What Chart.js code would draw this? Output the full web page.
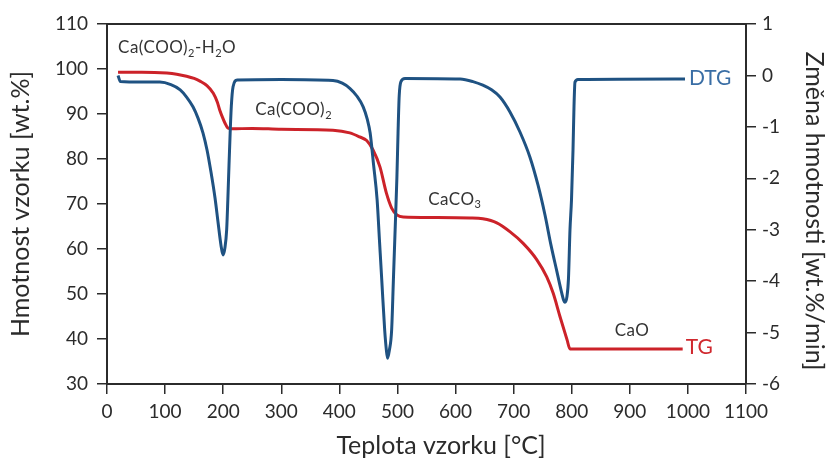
<!DOCTYPE html>
<html>
<head>
<meta charset="utf-8">
<script src="https://cdn.jsdelivr.net/npm/chart.js@4"></script>
<style>
  html, body { margin: 0; background: #fff; }
  #wrap { width: 830px; height: 464px; }
</style>
</head>
<body>
<div id="wrap"><canvas id="c" width="830" height="464"></canvas></div>
<script>
// TG curve: sample temperature [°C] and remaining mass [wt.%]
const tgTemp = [19, 60, 103, 120, 137, 150, 160, 172, 183, 190, 194, 199, 203, 208, 215, 250, 300, 389, 418, 435, 447, 458, 470, 481, 490, 499, 510, 560, 625, 647, 671, 694, 716, 740, 757, 768, 780, 792, 797, 991];
const tgMass = [99.3, 99.3, 99.1, 98.85, 98.4, 97.9, 97.3, 96.3, 94.6, 92.6, 90.9, 89.2, 88.0, 86.9, 86.7, 86.8, 86.6, 86.4, 85.8, 84.9, 84.1, 82.0, 78.2, 72.4, 69.1, 67.6, 67.1, 67.0, 66.9, 66.7, 65.8, 63.8, 61.3, 57.6, 53.8, 50.2, 44.9, 39.8, 37.8, 37.8];

// DTG curve: temperature [°C] and rate of mass change [wt.%/min]
const dtgTemp = [19, 23, 60, 91, 110, 126, 137, 148, 156.7, 165.3, 172.2, 179, 185.9, 191.1, 196.2, 199.7, 203, 206, 208, 210, 212, 214, 217, 224, 300, 389, 405, 418, 430, 441, 448, 453, 459, 465, 469, 473, 478, 481, 483, 486, 490, 493, 496, 499, 501, 503, 506, 513, 608, 630, 647, 662, 676.5, 693.7, 710.9, 728.1, 741.9, 753.9, 764.3, 774.6, 781.5, 785.8, 788.4, 791.8, 794.4, 797, 799.6, 802.2, 803.9, 805.6, 810.8, 995];
const dtgRate = [0.0, -0.12, -0.13, -0.13, -0.18, -0.28, -0.42, -0.61, -0.83, -1.12, -1.45, -1.88, -2.38, -2.85, -3.3, -3.49, -3.35, -3.0, -2.42, -1.75, -1.12, -0.6, -0.22, -0.09, -0.08, -0.1, -0.15, -0.25, -0.4, -0.61, -0.85, -1.12, -1.75, -2.42, -3.2, -3.98, -4.95, -5.35, -5.5, -5.35, -4.95, -3.98, -3.0, -2.0, -1.12, -0.4, -0.12, -0.06, -0.07, -0.12, -0.19, -0.28, -0.42, -0.71, -1.1, -1.59, -2.13, -2.71, -3.3, -3.82, -4.17, -4.36, -4.41, -4.3, -3.95, -3.0, -2.42, -1.45, -0.61, -0.13, -0.08, -0.07];

// Axis ranges and tick steps
const xTicks = [0, 1100, 100];
const massTicks = [30, 110, 10];
const rateTicks = [-6, 1, 1];

// Phase labels placed in data coordinates (temperature, mass); [text, subscript?] segments
const phaseText = [
  [['Ca(COO)', false], ['2', true], ['-H', false], ['2', true], ['O', false]],
  [['Ca(COO)', false], ['2', true]],
  [['CaCO', false], ['3', true]],
  [['CaO', false]]
];
const phaseTemp = [19, 255, 553, 874];
const phaseMass = [104.7, 90.9, 71.1, 41.8];

// Series names drawn beside the line ends
const seriesNames = ['TG', 'DTG'];

const RED = '#cc2229', BLUE = '#1f5282';
const AXIS = '#2b2b2b';
const FONT = 'Lato, "Open Sans", sans-serif';

const tgData = tgTemp.map((t, i) => ({ x: t, y: tgMass[i] }));
const dtgData = dtgTemp.map((t, i) => ({ x: t, y: dtgRate[i] }));

function drawRich(ctx, segs, x, y, size, color, spacing) {
  ctx.save();
  ctx.fillStyle = color;
  ctx.textBaseline = 'middle';
  ctx.textAlign = 'left';
  if (spacing) ctx.letterSpacing = spacing;
  let cx = x;
  for (const [txt, sub] of segs) {
    const s = sub ? Math.round(size * 0.66) : size;
    ctx.font = s + 'px ' + FONT;
    ctx.fillText(txt, cx, sub ? y + size * 0.32 : y);
    cx += ctx.measureText(txt).width;
  }
  ctx.restore();
}

const decorations = {
  id: 'decorations',
  afterDatasetsDraw(chart) {
    const { ctx, chartArea: a, scales } = chart;
    const xs = scales.x, ym = scales.yMass, yr = scales.yRate;
    // frame top edge
    ctx.save();
    ctx.strokeStyle = AXIS;
    ctx.lineWidth = 2;
    ctx.beginPath();
    ctx.moveTo(a.left, a.top);
    ctx.lineTo(a.right, a.top);
    ctx.stroke();
    ctx.restore();

    // phase labels
    phaseText.forEach((segs, i) => {
      drawRich(ctx, segs, xs.getPixelForValue(phaseTemp[i]), ym.getPixelForValue(phaseMass[i]), 17, '#333', '0.5px');
    });

    // series names next to the curve ends
    const tgLast = tgData[tgData.length - 1];
    const dtgLast = dtgData[dtgData.length - 1];
    drawRich(ctx, [[seriesNames[0], false]], xs.getPixelForValue(tgLast.x) + 3, ym.getPixelForValue(tgLast.y) - 2, 21, '#d0282e');
    drawRich(ctx, [[seriesNames[1], false]], xs.getPixelForValue(dtgLast.x) + 4, yr.getPixelForValue(dtgLast.y) - 1, 21, '#3a6ea5');

    // axis titles
    ctx.save();
    ctx.fillStyle = '#2b2b2b';
    ctx.font = '25px ' + FONT;
    ctx.textAlign = 'center';
    ctx.textBaseline = 'middle';
    ctx.fillText('Teplota vzorku [°C]', 441, 446);
    ctx.save();
    ctx.translate(21, 204);
    ctx.rotate(-Math.PI / 2);
    ctx.fillText('Hmotnost vzorku [wt.%]', 0, 0);
    ctx.restore();
    ctx.save();
    ctx.translate(814, 211);
    ctx.rotate(Math.PI / 2);
    ctx.fillText('Změna hmotnosti [wt.%/min]', 0, 0);
    ctx.restore();
    ctx.restore();
  }
};

const tickFont = { family: FONT, size: 19 };
const gridOpts = { drawOnChartArea: false, drawTicks: true, tickLength: 10, color: AXIS, lineWidth: 1.5 };
const borderOpts = { display: true, color: AXIS, width: 2 };
const plain = v => String(v);

new Chart(document.getElementById('c'), {
  type: 'line',
  data: {
    datasets: [
      { label: 'DTG', data: dtgData, yAxisID: 'yRate', borderColor: BLUE, borderWidth: 3, pointRadius: 0, cubicInterpolationMode: 'monotone', fill: false },
      { label: 'TG', data: tgData, yAxisID: 'yMass', borderColor: RED, borderWidth: 3, pointRadius: 0, cubicInterpolationMode: 'monotone', fill: false }
    ]
  },
  options: {
    responsive: false,
    animation: false,
    devicePixelRatio: 1,
    layout: { padding: { top: 24, left: 0, right: 0, bottom: 0 } },
    plugins: { legend: { display: false }, tooltip: { enabled: false } },
    scales: {
      x: {
        type: 'linear', position: 'bottom',
        min: xTicks[0], max: xTicks[1],
        ticks: { stepSize: xTicks[2], color: AXIS, font: tickFont, padding: 6, maxRotation: 0, callback: plain },
        grid: gridOpts, border: borderOpts,
        afterFit(s) { s.height = 80; }
      },
      yMass: {
        type: 'linear', position: 'left',
        min: massTicks[0], max: massTicks[1],
        ticks: { stepSize: massTicks[2], color: AXIS, font: tickFont, padding: 9, callback: plain },
        grid: gridOpts, border: borderOpts,
        afterFit(s) { s.width = 107; }
      },
      yRate: {
        type: 'linear', position: 'right',
        min: rateTicks[0], max: rateTicks[1],
        ticks: { stepSize: rateTicks[2], color: AXIS, font: tickFont, padding: 6, callback: plain },
        grid: gridOpts, border: borderOpts,
        afterFit(s) { s.width = 84; }
      }
    }
  },
  plugins: [decorations]
});
</script>
</body>
</html>
